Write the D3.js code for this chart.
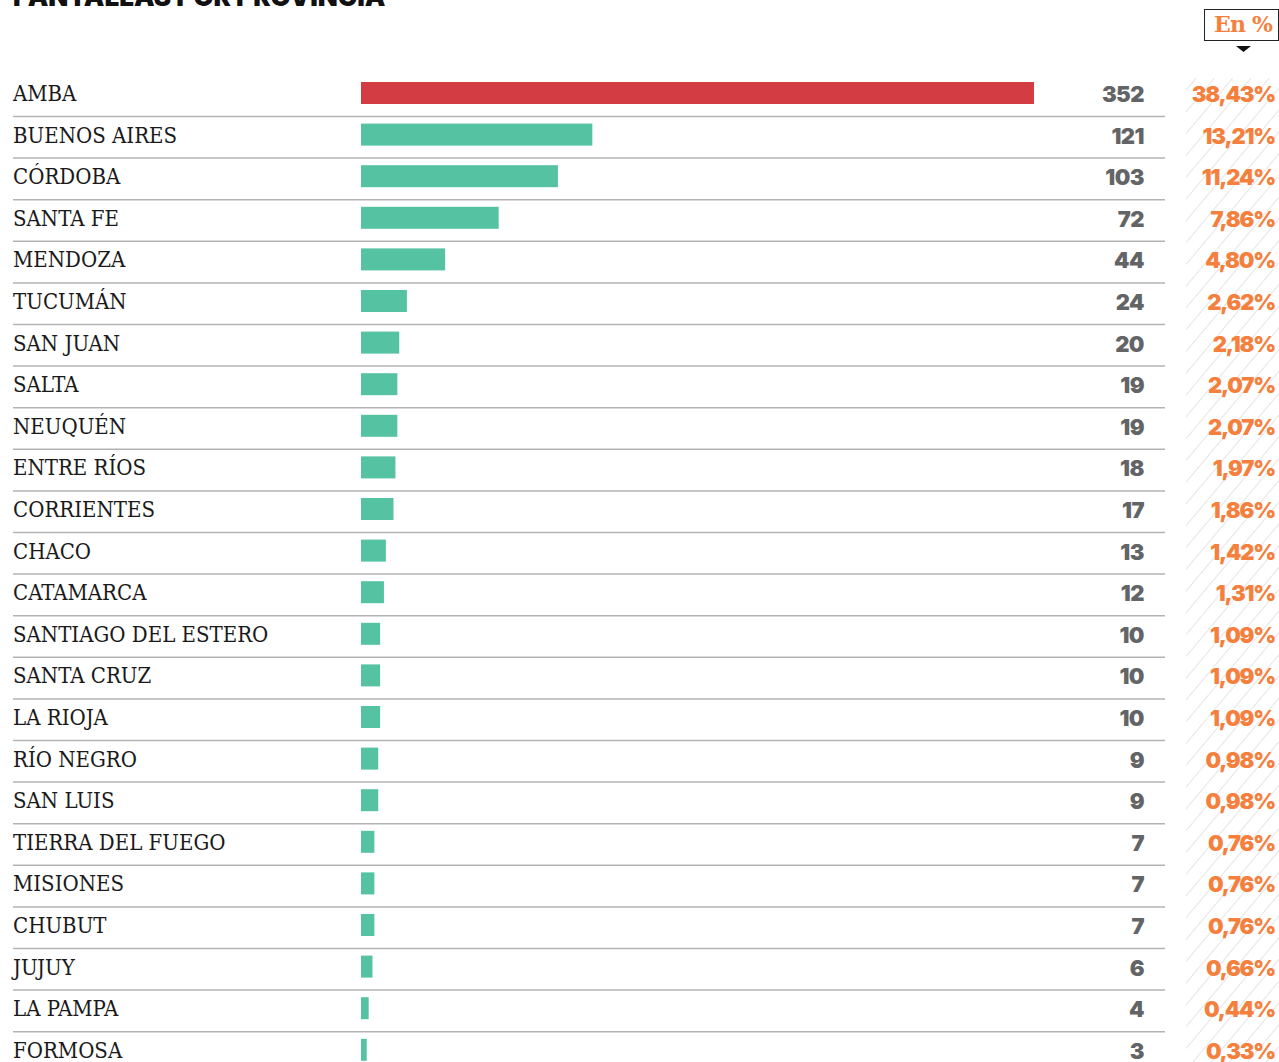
<!DOCTYPE html>
<html><head><meta charset="utf-8">
<script src="https://cdn.jsdelivr.net/npm/d3@7"></script>
<style>body{margin:0;background:#fff;}svg{display:block;}</style>
</head><body>
<script>
const provinces = ["AMBA","BUENOS AIRES","CÓRDOBA","SANTA FE","MENDOZA","TUCUMÁN","SAN JUAN","SALTA","NEUQUÉN","ENTRE RÍOS","CORRIENTES","CHACO","CATAMARCA","SANTIAGO DEL ESTERO","SANTA CRUZ","LA RIOJA","RÍO NEGRO","SAN LUIS","TIERRA DEL FUEGO","MISIONES","CHUBUT","JUJUY","LA PAMPA","FORMOSA"];
const screens = [352,121,103,72,44,24,20,19,19,18,17,13,12,10,10,10,9,9,7,7,7,6,4,3];
const percents = ["38,43%","13,21%","11,24%","7,86%","4,80%","2,62%","2,18%","2,07%","2,07%","1,97%","1,86%","1,42%","1,31%","1,09%","1,09%","1,09%","0,98%","0,98%","0,76%","0,76%","0,76%","0,66%","0,44%","0,33%"];
const title = "PANTALLAS POR PROVINCIA";
const badge = "En %";

const W = 1279, H = 1062;
const svg = d3.select("body").append("svg").attr("width", W).attr("height", H);

const defs = svg.append("defs");
const pat = defs.append("pattern").attr("id","hatch").attr("patternUnits","userSpaceOnUse")
  .attr("width",14).attr("height",14).attr("patternTransform","rotate(40)");
pat.append("line").attr("x1",0).attr("y1",0).attr("x2",0).attr("y2",14)
  .attr("stroke","#d4d4d4").attr("stroke-width",1.2);

svg.append("rect").attr("x",1186).attr("y",78).attr("width",W-1186).attr("height",H-78)
  .attr("fill","url(#hatch)");

svg.append("text").attr("x",13).attr("y",6).text(title)
  .attr("font-family","Inter, Roboto, sans-serif").attr("font-weight",900)
  .attr("font-size",26).attr("fill","#111");

svg.append("rect").attr("x",1204.5).attr("y",9.5).attr("width",74).attr("height",31)
  .attr("fill","#fff").attr("stroke","#222").attr("stroke-width",1);
svg.append("text").attr("x",1243).attr("y",32).attr("text-anchor","middle").text(badge)
  .attr("font-family","'DejaVu Serif', serif").attr("font-weight",700)
  .attr("font-size",22).attr("letter-spacing",-0.8).attr("fill","#f5803e");
svg.append("path").attr("d","M1236,46 L1251,46 L1243.5,52 Z").attr("fill","#111");

const y = d3.scalePoint().domain(provinces).range([93, 1049.8]);
const x = d3.scaleLinear().domain([0, 352]).range([361, 1034]);

const rows = svg.append("g").selectAll("g").data(provinces).join("g")
  .attr("transform", d => `translate(0,${y(d)})`);

rows.append("line").attr("x1",13).attr("x2",1165).attr("y1",23.5).attr("y2",23.5)
  .attr("stroke","#b3b3b3").attr("stroke-width",1.5);

rows.append("rect").attr("x", x(0)).attr("y",-11).attr("height",22)
  .attr("width",(d,i)=>x(screens[i])-x(0))
  .attr("fill",(d,i)=> i===0 ? "#d33c42" : "#55c2a2");

rows.append("text").attr("x",13).attr("y",8).text(d=>d)
  .attr("font-family","'DejaVu Serif Condensed','DejaVu Serif', serif")
  .attr("font-size",22).attr("fill","#1a1a1a");

rows.append("text").attr("x",1144).attr("y",9).attr("text-anchor","end")
  .text((d,i)=>screens[i])
  .attr("font-family","Inter, Roboto, sans-serif").attr("font-weight",900)
  .attr("font-size",22).attr("letter-spacing",-0.5).attr("fill","#636466");

rows.append("text").attr("x",1275).attr("y",9).attr("text-anchor","end")
  .text((d,i)=>percents[i])
  .attr("font-family","Inter, Roboto, sans-serif").attr("font-weight",900)
  .attr("font-size",22).attr("letter-spacing",-1.2).attr("fill","#f5803e");
</script>
</body></html>
